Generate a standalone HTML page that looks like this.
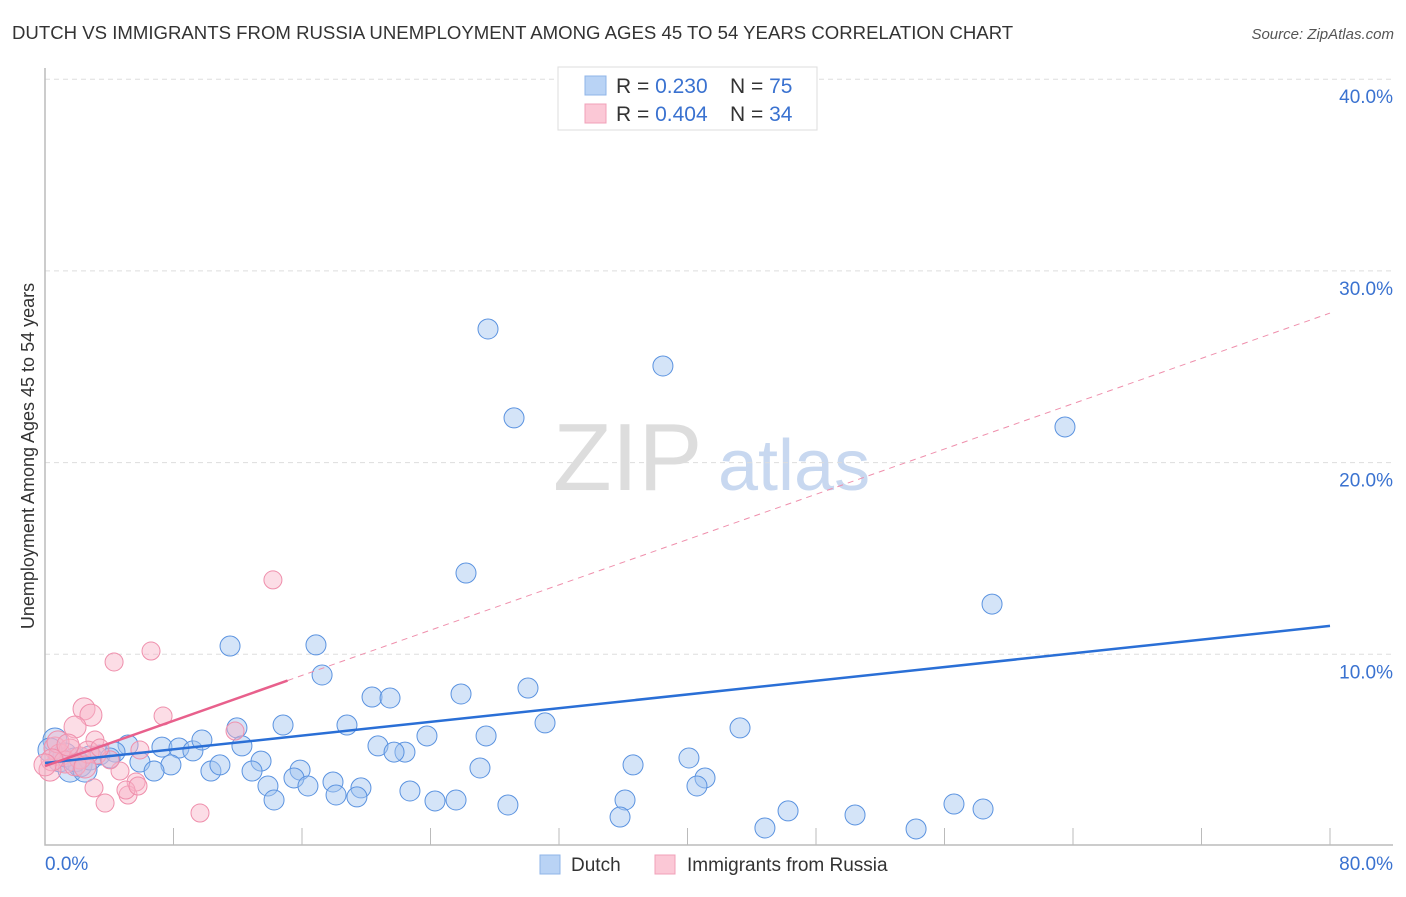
<!DOCTYPE html>
<html><head><meta charset="utf-8"><style>
body{margin:0;background:#fff;font-family:"Liberation Sans",sans-serif;}
svg text{font-family:"Liberation Sans",sans-serif;}
</style></head><body>
<svg id="chart" width="1406" height="892" viewBox="0 0 1406 892" xmlns="http://www.w3.org/2000/svg">
<text x="12" y="39" font-size="18.6" fill="#333">DUTCH VS IMMIGRANTS FROM RUSSIA UNEMPLOYMENT AMONG AGES 45 TO 54 YEARS CORRELATION CHART</text>
<text x="1394" y="39" font-size="15" fill="#555" text-anchor="end" font-style="italic">Source: ZipAtlas.com</text>
<text x="553" y="490" font-size="96" fill="#ddd" font-family="Liberation Serif, serif">ZIP</text>
<text x="718" y="490" font-size="72" fill="#c8d8f0">atlas</text>
<text transform="translate(34,456) rotate(-90)" font-size="18" fill="#333" text-anchor="middle">Unemployment Among Ages 45 to 54 years</text>
<g id="grid"></g><g id="marks"></g>
<g>
<rect x="558" y="67" width="259" height="63" fill="#fff" stroke="#ddd"/>
<rect x="585" y="76" width="21" height="19" fill="#b9d3f5" stroke="#8fb4e8"/>
<rect x="585" y="104" width="21" height="19" fill="#fbc8d6" stroke="#f0a0b8"/>
<text x="616" y="93" font-size="21" fill="#333">R = <tspan fill="#3a72d0"> 0.230</tspan><tspan x="730">N = </tspan><tspan fill="#3a72d0">75</tspan></text>
<text x="616" y="121" font-size="21" fill="#333">R = <tspan fill="#3a72d0">0.404</tspan><tspan x="730">N = </tspan><tspan fill="#3a72d0">34</tspan></text>
</g>
<g>
<rect x="540" y="855" width="20" height="19" fill="#b9d3f5" stroke="#8fb4e8"/>
<text x="571" y="871" font-size="19" fill="#333">Dutch</text>
<rect x="655" y="855" width="20" height="19" fill="#fbc8d6" stroke="#f0a0b8"/>
<text x="687" y="871" font-size="19" fill="#333">Immigrants from Russia</text>
</g>
</svg>
<script>
const xTicks=[0,8,16,24,32,40,48,56,64,72,80];
const yTicks=[10,20,30,40];
const yTickLabels=["10.0%","20.0%","30.0%","40.0%"];
const dutchPx=[[488,329],[663,366],[514,418],[1065,427],[466,573],[992,604],[230,646],[316,645],[322,675],[749,100],[461,694],[528,688],[372,697],[390,698],[545,723],[347,725],[283,725],[237,728],[740,728],[427,736],[486,736],[378,746],[405,752],[394,752],[689,758],[633,765],[480,768],[705,778],[697,786],[128,745],[162,747],[179,748],[193,751],[202,740],[242,746],[261,761],[140,762],[171,765],[154,771],[211,771],[220,765],[252,771],[300,770],[294,778],[268,786],[308,786],[333,782],[361,788],[410,791],[274,800],[336,795],[357,797],[435,801],[456,800],[508,805],[625,800],[620,817],[765,828],[788,811],[855,815],[916,829],[954,804],[983,809],[55,740],[60,760],[70,770],[80,765],[65,755],[90,758],[100,755],[115,752],[110,758],[50,750],[75,760],[85,770]];
const russiaPx=[[273,580],[114,662],[151,651],[84,709],[91,715],[75,727],[163,716],[235,731],[95,740],[97,755],[120,771],[136,782],[94,788],[105,803],[128,795],[126,790],[138,786],[200,813],[55,748],[60,755],[70,750],[65,762],[80,758],[50,770],[58,742],[88,752],[110,760],[100,748],[75,765],[68,745],[85,767],[52,760],[45,765],[140,750]];
const dutchX=dutchPx.map(p=>+((p[0]-45)*80/1285).toFixed(2));
const dutchY=dutchPx.map(p=>+((846-p[1])/19.17).toFixed(2));
const russiaX=russiaPx.map(p=>+((p[0]-45)*80/1285).toFixed(2));
const russiaY=russiaPx.map(p=>+((846-p[1])/19.17).toFixed(2));
const dutchTrend=[4.33,11.48];
const russiaTrend=[4.17,27.8];
const russiaSolidEnd=15.1;

const X=v=>45+v*1285/80, Y=v=>846-v*19.17;
const NS="http://www.w3.org/2000/svg";
const grid=document.getElementById('grid'), marks=document.getElementById('marks');
function mk(tag,attrs,parent){const e=document.createElementNS(NS,tag);for(const k in attrs)e.setAttribute(k,attrs[k]);parent.appendChild(e);return e;}
yTicks.forEach((t,i)=>{
  const l=mk('line',{x1:45,x2:1393,y1:Y(t),y2:Y(t),stroke:'#ddd','stroke-dasharray':'5,4'},grid);
  
  
  const tx=mk('text',{x:1393,y:Y(t)+24,'font-size':19,fill:'#3a72d0','text-anchor':'end'},grid);
  tx.textContent=yTickLabels[i];
  
  
});
xTicks.forEach(t=>{
  if(t===0)return;
  const l=mk('line',{x1:X(t),x2:X(t),y1:828,y2:845,stroke:'#bbb'},grid);
  
  
});
const ax=mk('path',{d:'M45,68 V845 H1393',fill:'none',stroke:'#bbb','stroke-width':1.5},grid);


const xl0=mk('text',{x:45,y:870,'font-size':19,fill:'#3a72d0'},grid);xl0.textContent='0.0%';


const xl1=mk('text',{x:1393,y:870,'font-size':19,fill:'#3a72d0','text-anchor':'end'},grid);xl1.textContent='80.0%';



dutchX.forEach((x,i)=>{
  const c=mk('circle',{cx:X(x),cy:Y(dutchY[i]),r:(x<3?12:10),fill:'rgba(160,195,240,0.45)',stroke:'#5b93e0','stroke-width':1},marks);
  
  
});
russiaX.forEach((x,i)=>{
  const c=mk('circle',{cx:X(x),cy:Y(russiaY[i]),r:(x<3?11:9),fill:'rgba(248,180,200,0.45)',stroke:'#ef8fac','stroke-width':1},marks);
  
  
});
const bt=mk('line',{x1:X(0),y1:Y(dutchTrend[0]),x2:X(80),y2:Y(dutchTrend[1]),stroke:'#2a6fd6','stroke-width':2.5},marks);


const rAt=x=>russiaTrend[0]+(russiaTrend[1]-russiaTrend[0])*x/80;
const rd=mk('line',{x1:X(russiaSolidEnd),y1:Y(rAt(russiaSolidEnd)),x2:X(80),y2:Y(russiaTrend[1]),stroke:'#ef8fac','stroke-width':1,'stroke-dasharray':'6,5'},marks);


const rs=mk('line',{x1:X(0),y1:Y(russiaTrend[0]),x2:X(russiaSolidEnd),y2:Y(rAt(russiaSolidEnd)),stroke:'#e8608c','stroke-width':2.5},marks);


</script>
</body></html>
